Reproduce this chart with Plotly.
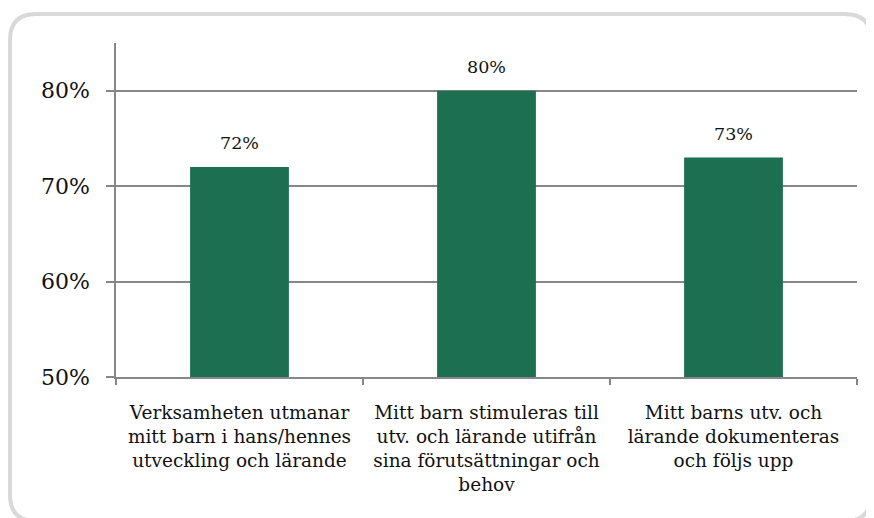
import plotly.graph_objects as go

categories = [
    "Verksamheten utmanar<br>mitt barn i hans/hennes<br>utveckling och lärande",
    "Mitt barn stimuleras till<br>utv. och lärande utifrån<br>sina förutsättningar och<br>behov",
    "Mitt barns utv. och<br>lärande dokumenteras<br>och följs upp",
]
values = [72, 80, 73]
y_ticks = [50, 60, 70, 80]
y_ticklabels = ["50%", "60%", "70%", "80%"]

FONT = "DejaVu Serif"
GREEN = "#1d6f52"
GRID = "#878787"

# page has an 8px body margin, so the figure is drawn 8px smaller
W, H = 866, 510
L, R, T, B = 108, 17, 35, 141
PW, PH = W - L - R, H - T - B


def px_x(x):
    return (x - L) / PW


def px_y(y):
    return (H - B - y) / PH


def rounded_frame(x0, y0, x1, y1, r):
    # rounded rectangle path in paper units, built from pixel positions
    return (
        f"M {px_x(x0 + r)} {px_y(y0)} L {px_x(x1 - r)} {px_y(y0)} "
        f"Q {px_x(x1)} {px_y(y0)} {px_x(x1)} {px_y(y0 + r)} "
        f"L {px_x(x1)} {px_y(y1 - r)} "
        f"Q {px_x(x1)} {px_y(y1)} {px_x(x1 - r)} {px_y(y1)} "
        f"L {px_x(x0 + r)} {px_y(y1)} "
        f"Q {px_x(x0)} {px_y(y1)} {px_x(x0)} {px_y(y1 - r)} "
        f"L {px_x(x0)} {px_y(y0 + r)} "
        f"Q {px_x(x0)} {px_y(y0)} {px_x(x0 + r)} {px_y(y0)} Z"
    )


fig = go.Figure(
    go.Bar(
        x=categories,
        y=values,
        marker=dict(color=GREEN, line=dict(width=0)),
        hoverinfo="skip",
    )
)

for c, v in zip(categories, values):
    fig.add_annotation(
        x=c, y=v, text=f"{v}%", showarrow=False,
        yanchor="bottom", yshift=12,
        font=dict(family=FONT, size=17.5, color="#111111"),
    )

fig.add_shape(
    type="path", xref="paper", yref="paper",
    path=rounded_frame(2, 6, 863, 513, 26),
    line=dict(color="#d9d9d9", width=4), layer="below",
)

fig.update_layout(
    width=W, height=H,
    margin=dict(l=L, r=R, t=T, b=B, autoexpand=False),
    paper_bgcolor="white", plot_bgcolor="white",
    bargap=0.6, showlegend=False,
    font=dict(family=FONT, color="#111111"),
)
fig.update_xaxes(
    showline=True, linecolor=GRID, linewidth=1.5,
    ticks="outside", tickson="boundaries", ticklen=6, tickcolor=GRID, tickwidth=1.5,
    tickfont=dict(family=FONT, size=18.5),
    ticklabelstandoff=18,
)
fig.update_yaxes(
    range=[50, 85], tickvals=y_ticks, ticktext=y_ticklabels,
    showline=True, linecolor=GRID, linewidth=1.5,
    showgrid=True, gridcolor=GRID, gridwidth=1.5,
    ticks="outside", ticklen=8, tickcolor=GRID, tickwidth=1.5,
    tickfont=dict(family=FONT, size=22),
    ticklabelstandoff=12, zeroline=False,
)

fig.write_html("out.html")
